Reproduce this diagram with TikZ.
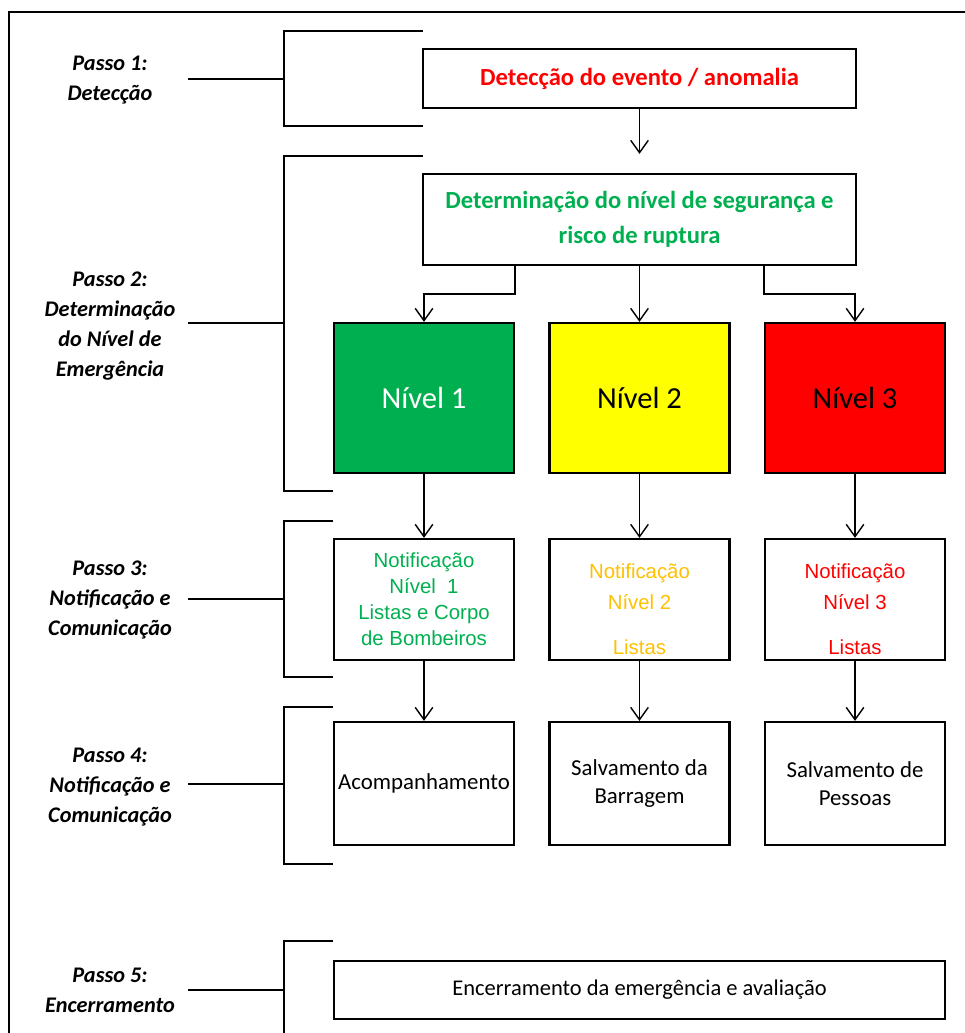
\documentclass[tikz,border=0pt]{standalone}
\usepackage{fontspec}
\setmainfont{Carlito}
\newfontfamily\arialfont{Liberation Sans}
\usetikzlibrary{arrows.meta}
\definecolor{vermelho}{HTML}{FF0000}
\definecolor{verde}{HTML}{00B050}
\definecolor{amarelo}{HTML}{FFFF00}
\definecolor{ouro}{HTML}{FFC000}

\tikzset{
  caixa/.style={draw,line width=1.3pt,align=center,inner sep=0pt},
  nivel/.style={caixa,minimum width=3.6cm,minimum height=3cm,font=\fontsize{17.4}{20}\selectfont},
  aviso/.style={caixa,minimum width=3.6cm,minimum height=2.42cm,font=\arialfont\fontsize{11.6}{14.8}\selectfont},
  avisolargo/.style={aviso,font=\arialfont\fontsize{11.6}{17.6}\selectfont},
  acao/.style={caixa,minimum width=3.6cm,minimum height=2.46cm,font=\fontsize{13}{16}\selectfont},
  passo/.style={align=center,font=\fontsize{12.7}{17}\selectfont\bfseries\itshape},
  fino/.style={line width=0.8pt},
  seta/.style={fino,-{Straight Barb[length=7pt,width=10pt]}}
}

\begin{document}
\begin{tikzpicture}[x=0.02cm,y=-0.02cm]
      \useasboundingbox (0,0) rectangle (964,1033);
      \draw[line width=1.2pt] (9,1060) |- (990,12);

      % passos
      \node[passo] (passo1) at (110,80) {Passo 1:\\Detecção};
      \node[passo] (passo2) at (110,326) {Passo 2:\\Determinação\\do Nível de\\Emergência};
      \node[passo] (passo3) at (110,600) {Passo 3:\\Notificação e\\Comunicação};
      \node[passo] (passo4) at (110,787) {Passo 4:\\Notificação e\\Comunicação};
      \node[passo] (passo5) at (110,990) {Passo 5:\\Encerramento};

      \draw[fino] (423,31) -| (284,126) -- (423,126);
      \draw[fino] (188,79) -- (284,79);
      \draw[fino] (423,156) -| (284,491) -- (333,491);
      \draw[fino] (188,323) -- (284,323);
      \draw[fino] (333,521) -| (284,677) -- (333,677);
      \draw[fino] (188,599) -- (284,599);
      \draw[fino] (333,707) -| (284,864) -- (333,864);
      \draw[fino] (188,784) -- (284,784);
      \draw[fino] (333,941) -| (284,1060);
      \draw[fino] (188,990) -- (284,990);

      % caixas
      \node[caixa,minimum width=8.66cm,minimum height=1.18cm,font=\fontsize{14}{20}\selectfont\bfseries,text=vermelho]
        (detec) at (639.5,78.5) {Detecção do evento / anomalia};
      \node[caixa,minimum width=8.66cm,minimum height=1.82cm,font=\fontsize{14}{20}\selectfont\bfseries,text=verde]
        (nivelseg) at (639.5,219.5) {Determinação do nível de segurança e\\risco de ruptura};

      \node[nivel,fill=verde,text=white] (n1) at (424,398) {Nível 1};
      \node[nivel,fill=amarelo] (n2) at (639.5,398) {Nível 2};
      \node[nivel,fill=vermelho] (n3) at (855,398) {Nível 3};

      \node[aviso,text=verde] (not1) at (424,599.5) {Notificação\\Nível~ 1\\Listas e Corpo\\de Bombeiros};
      \node[avisolargo,text=ouro] (not2) at (639.5,599.5) {\rule{0pt}{19pt}Notificação\\Nível 2\\[8pt]Listas};
      \node[avisolargo,text=vermelho] (not3) at (855,599.5) {\rule{0pt}{19pt}Notificação\\Nível 3\\[8pt]Listas};

      \node[acao] (acao1) at (424,783.5) {Acompanhamento};
      \node[acao] (acao2) at (639.5,783.5) {Salvamento da\\Barragem};
      \node[acao] (acao3) at (855,783.5) {Salvamento de\\Pessoas};

      \node[caixa,minimum width=12.22cm,minimum height=1.16cm,font=\fontsize{12.8}{16}\selectfont]
        (encerra) at (639.5,990) {Encerramento da emergência e avaliação};

      % setas
      \draw[seta,shorten >=0.38cm] (detec.south) -- (nivelseg.north);
      \draw[seta] (nivelseg.south -| n1.east) -- ++(0,28) -| (n1.north);
      \draw[seta] (nivelseg.south) -- (n2.north);
      \draw[seta] (nivelseg.south -| n3.west) -- ++(0,28) -| (n3.north);
      \foreach \i in {1,2,3} {
        \draw[seta] (n\i.south) -- (not\i.north);
        \draw[seta] (not\i.south) -- (acao\i.north);
      }
    \end{tikzpicture}
\end{document}
